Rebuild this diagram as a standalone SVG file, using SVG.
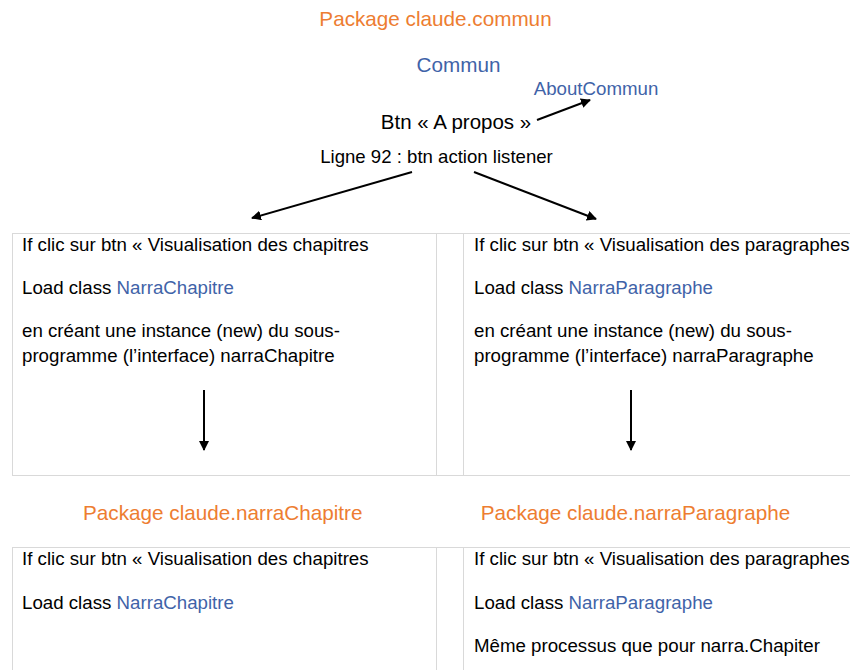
<svg xmlns="http://www.w3.org/2000/svg" width="850" height="670" viewBox="0 0 850 670">
<defs>
<marker id="ah" viewBox="0 0 10 10" refX="9" refY="5" markerWidth="10" markerHeight="10" markerUnits="userSpaceOnUse" orient="auto"><path d="M0,0 L10,5 L0,10 z" fill="#000"/></marker>
</defs>
<style>
text{font-family:"Liberation Sans",Arial,sans-serif;}
.pk{fill:#ED7D31;font-size:20.7px;}
.bl{fill:#3F63A8;}
.tx{fill:#000;font-size:18.7px;}
.grid{stroke:#D9D9D9;stroke-width:1;fill:none;}
.con{stroke:#000;stroke-width:2;fill:none;marker-end:url(#ah);}
</style>
<rect width="850" height="670" fill="#fff"/>
<g id="grid">
<path class="grid" d="M12,233.5 H850 M12,475.5 H850 M12.5,233 V475 M436.5,233 V475 M463.5,233 V475"/>
<path class="grid" d="M12,547.5 H850 M12.5,547 V670 M436.5,547 V670 M463.5,547 V670"/>
</g>
<g id="pkg-commun"><text class="pk" x="435.5" y="26" text-anchor="middle">Package claude.commun</text></g>
<g id="commun"><text class="bl" x="458.5" y="72" text-anchor="middle" font-size="20.7">Commun</text></g>
<g id="about"><text class="bl" x="596" y="94.5" text-anchor="middle" font-size="18.7">AboutCommun</text></g>
<g id="btn"><text x="456" y="129" text-anchor="middle" font-size="20.5">Btn « A propos »</text></g>
<g id="ligne"><text x="436.5" y="162.5" text-anchor="middle" font-size="18.6">Ligne 92 : btn action listener</text></g>
<g id="cell-chap">
<text class="tx" x="22" y="250.5">If clic sur btn « Visualisation des chapitres</text>
<text class="tx" x="22" y="293.5">Load class <tspan class="bl">NarraChapitre</tspan></text>
<text class="tx" x="22" y="336.5">en créant une instance (new) du sous-</text>
<text class="tx" x="22" y="361.5">programme (l’interface) narraChapitre</text>
</g>
<g id="cell-para">
<text class="tx" x="474" y="250.5">If clic sur btn « Visualisation des paragraphes</text>
<text class="tx" x="474" y="293.5">Load class <tspan class="bl">NarraParagraphe</tspan></text>
<text class="tx" x="474" y="336.5">en créant une instance (new) du sous-</text>
<text class="tx" x="474" y="361.5">programme (l’interface) narraParagraphe</text>
</g>
<g id="pkg-chap"><text class="pk" x="222.8" y="520" text-anchor="middle">Package claude.narraChapitre</text></g>
<g id="pkg-para"><text class="pk" x="635.5" y="520" text-anchor="middle">Package claude.narraParagraphe</text></g>
<g id="cell-chap2">
<text class="tx" x="22" y="565">If clic sur btn « Visualisation des chapitres</text>
<text class="tx" x="22" y="609">Load class <tspan class="bl">NarraChapitre</tspan></text>
</g>
<g id="cell-para2">
<text class="tx" x="474" y="565">If clic sur btn « Visualisation des paragraphes</text>
<text class="tx" x="474" y="609">Load class <tspan class="bl">NarraParagraphe</tspan></text>
<text class="tx" x="474" y="652">Même processus que pour narra.Chapiter</text>
</g>
<g id="connectors">
<line class="con" x1="537" y1="120" x2="590" y2="100"/>
<line class="con" x1="412" y1="172" x2="252" y2="218"/>
<line class="con" x1="474" y1="172" x2="596" y2="219"/>
<line class="con" x1="204" y1="390" x2="204" y2="450"/>
<line class="con" x1="631" y1="390" x2="631" y2="450"/>
</g>
</svg>
